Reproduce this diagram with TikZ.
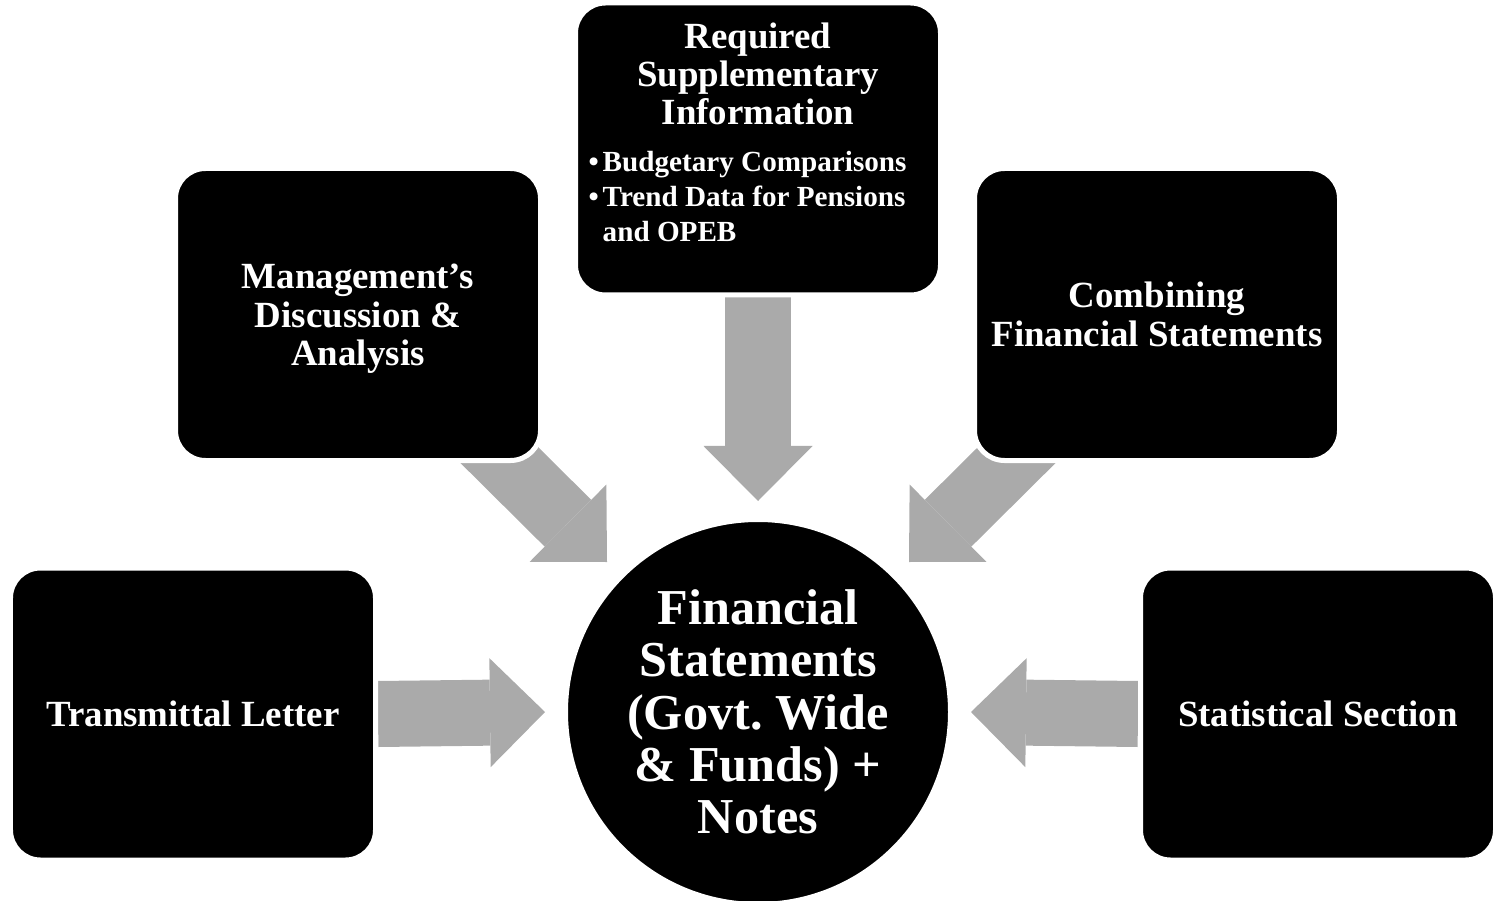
\documentclass[tikz,border=0pt]{standalone}
\usepackage{fontspec}
\setmainfont{Liberation Serif}
\usepackage{xcolor}
\usetikzlibrary{positioning, calc, arrows.meta}

\definecolor{arrowgray}{HTML}{AAAAAA}
\pgfdeclarelayer{back}
\pgfsetlayers{back,main}
\newcommand{\bulletpt}{\makebox[1.4mm][l]{\textbullet}}
\frenchspacing

\begin{document}
\begin{tikzpicture}[
  font=\bfseries,
  block/.style={fill=black, draw=white, line width=0.5mm, rounded corners=3mm,
    minimum width=3.65cm, minimum height=2.92cm, inner sep=0pt,
    text=white, align=center, font=\bfseries\fontsize{10.5}{11}\selectfont},
  hub/.style={circle, fill=black, draw=white, line width=0.5mm, minimum size=3.85cm,
    inner sep=0pt, text=white, align=center,
    font=\bfseries\fontsize{14.3}{14.9}\selectfont},
  flow/.style={draw=arrowgray, line width=6.6mm,
    -{Triangle[length=5.5mm, width=10.9mm, line width=0pt]}},
]
\useasboundingbox (0,0) rectangle (14.95,9);

% column x positions
\pgfmathsetmacro{\xL}{1.93}
\pgfmathsetmacro{\xM}{3.58}
\pgfmathsetmacro{\xC}{7.58}
\pgfmathsetmacro{\xR}{11.57}
\pgfmathsetmacro{\xS}{13.18}

% row y positions
\pgfmathsetmacro{\yLow}{1.86}
\pgfmathsetmacro{\yMid}{5.855}
\pgfmathsetmacro{\yTop}{7.51}

% ---- boxes round the statements ----
\node[block] (tl) at (\xL,\yLow) {Transmittal Letter};
\node[block] (mda) at (\xM,\yMid) {\rule{0pt}{3.3mm}Management's\\Discussion \&\\Analysis};
\node[block] (rsi) at (\xC,\yTop) {};
\node[block] (cfs) at (\xR,\yMid) {Combining\\Financial Statements};
\node[block, minimum width=3.55cm] (ss) at (\xS,\yLow) {Statistical Section};

% text of the top box
\node[anchor=north, inner sep=0pt, text=white, align=center,
  font=\bfseries\fontsize{10.5}{10.8}\selectfont] (rsititle)
  at ([yshift=-2.2mm]rsi.north) {Required\\Supplementary\\Information};
\node[anchor=north west, inner sep=0pt, text=white, align=left,
  font=\bfseries\fontsize{8.3}{9.9}\selectfont] (rsilist)
  at ($(rsi.north west)+(0.15,-1.50)$)
  {\bulletpt Budgetary Comparisons\\
   \bulletpt Trend Data for Pensions\\
   \hphantom{\bulletpt}and OPEB};

% ---- centre ----
\node[hub] (fs) at (\xC,1.88) {Financial\\Statements\\(Govt. Wide\\\& Funds) +\\Notes};

% ---- block arrows (drawn behind the boxes) ----
\begin{pgfonlayer}{back}
  \draw[flow] (tl.east) -- ([xshift=-1.8mm]fs.west);
  \draw[flow] (ss.west) -- ([xshift=1.8mm]fs.east);
  \draw[flow] (rsi.south) -- ([yshift=1.6mm]fs.north);
  \draw[flow] ($(mda.south east)+(-0.73,0.37)$) -- ($(fs.center)+(-1.51,1.50)$);
  \draw[flow] ($(cfs.south west)+(0.74,0.37)$) -- ($(fs.center)+(1.51,1.50)$);
\end{pgfonlayer}

\end{tikzpicture}
\end{document}
